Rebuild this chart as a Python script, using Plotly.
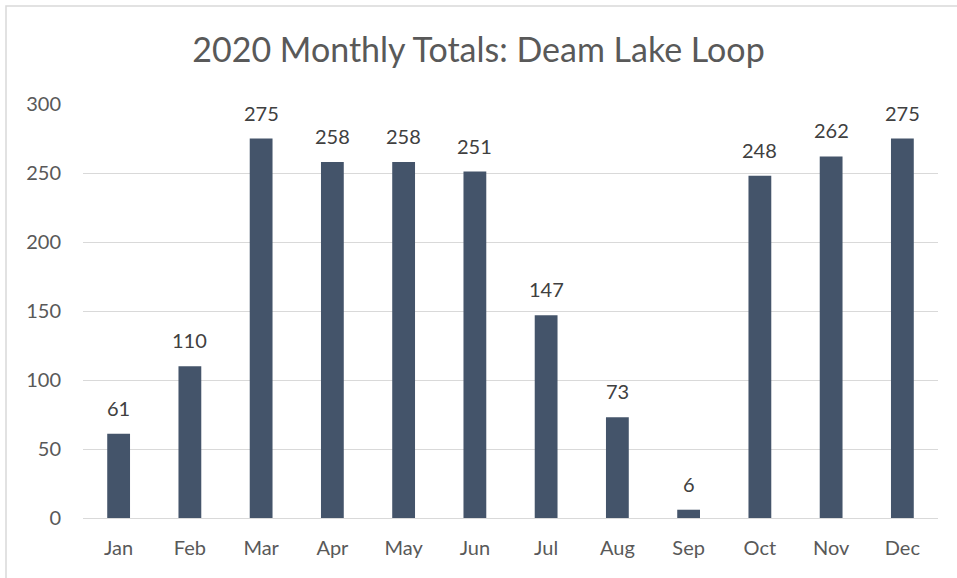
import plotly.graph_objects as go

months = ["Jan", "Feb", "Mar", "Apr", "May", "Jun", "Jul", "Aug", "Sep", "Oct", "Nov", "Dec"]
totals = [61, 110, 275, 258, 258, 251, 147, 73, 6, 248, 262, 275]
y_ticks = [0, 50, 100, 150, 200, 250, 300]

W, H = 957, 578
L, R, T, B = 83, 19, 104, 60
pw, ph = W - L - R, H - T - B

def px(x):
    return (x - L) / pw

def py(y):
    return (H - B - y) / ph

fig = go.Figure(go.Bar(
    x=months, y=totals,
    marker=dict(color="#44546A", line=dict(width=0)),
    hoverinfo="x+y",
))

for m, v in zip(months, totals):
    fig.add_annotation(x=m, y=v, text=str(v), showarrow=False, yanchor="bottom",
                       yshift=12, font=dict(family="Lato", size=20, color="#404040"))

fig.update_layout(
    width=W, height=H,
    margin=dict(l=L, r=R, t=T, b=B),
    paper_bgcolor="white", plot_bgcolor="white",
    bargap=0.68,
    showlegend=False,
    title=dict(text="2020 Monthly Totals: Deam Lake Loop", x=0.5, xanchor="center",
               y=1 - 50 / H, yanchor="middle",
               font=dict(family="Lato", size=34, color="#595959")),
    xaxis=dict(showgrid=False, showline=True, linecolor="#D9D9D9", linewidth=1,
               ticks="", tickfont=dict(family="Lato", size=20, color="#595959"),
               ticklabelstandoff=12),
    yaxis=dict(range=[0, 300], tickvals=y_ticks, showgrid=True, gridcolor="#D9D9D9",
               gridwidth=1, zeroline=False, showline=False, ticks="",
               tickfont=dict(family="Lato", size=20, color="#595959"),
               ticklabelstandoff=21),
    shapes=[dict(type="rect", xref="paper", yref="paper",
                 x0=px(6), x1=px(990), y0=py(620), y1=py(6),
                 line=dict(color="#D9D9D9", width=1.5), fillcolor="rgba(0,0,0,0)", layer="below")],
)

fig.write_html("out.html", config={"displayModeBar": False},
               post_script="document.body.style.margin='0';document.body.style.overflow='hidden';")
